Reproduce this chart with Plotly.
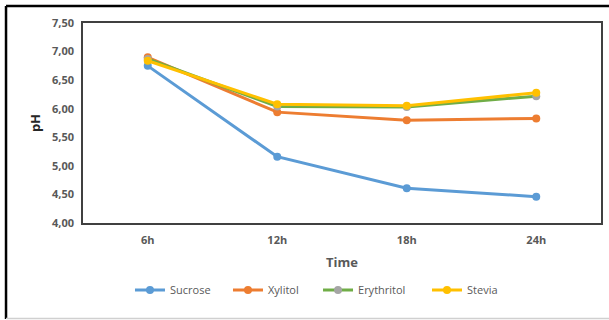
import plotly.graph_objects as go

times = ["6h", "12h", "18h", "24h"]
sucrose = [6.75, 5.16, 4.61, 4.46]
xylitol = [6.90, 5.94, 5.80, 5.83]
erythritol = [6.87, 6.04, 6.03, 6.22]
stevia = [6.84, 6.08, 6.05, 6.28]

series = [
    ("Sucrose", sucrose, "#5B9BD5", "#5B9BD5"),
    ("Xylitol", xylitol, "#ED7D31", "#ED7D31"),
    ("Erythritol", erythritol, "#70AD47", "#A5A5A5"),
    ("Stevia", stevia, "#FFC000", "#FFC000"),
]
legend_x = [0.0907, 0.2799, 0.4537, 0.6641]
legend_ids = ["legend", "legend2", "legend3", "legend4"]

fig = go.Figure()
for (name, vals, lc, mc), lid in zip(series, legend_ids):
    fig.add_trace(go.Scatter(
        x=times, y=vals, name=name, mode="lines+markers",
        line=dict(color=lc, width=3),
        marker=dict(color=mc, size=8, line=dict(width=0)),
        legend=lid,
    ))

gray = "#595959"
legend_common = dict(orientation="h", xanchor="left", y=-0.335, yanchor="middle",
                     font=dict(size=11, color=gray), itemwidth=30,
                     bgcolor="rgba(0,0,0,0)")
legends = {lid: dict(x=lx, **legend_common) for lid, lx in zip(legend_ids, legend_x)}

fig.update_layout(
    width=609, height=320,
    margin=dict(l=83, r=8, t=23, b=97, autoexpand=False),
    paper_bgcolor="white", plot_bgcolor="white",
    separators=",.",
    font=dict(family="Open Sans", color=gray, size=11),
    showlegend=True,
    **legends,
    xaxis=dict(type="category", range=[-0.5, 3.5], showgrid=False, zeroline=False,
               automargin=False, ticklabelstandoff=6,
               showline=True, mirror=True, linecolor="#404040", linewidth=1.5,
               ticks="", tickfont=dict(size=11, color=gray, weight="bold"),
               title=dict(text="Time", font=dict(size=13, color=gray, weight="bold"), standoff=12)),
    yaxis=dict(range=[4, 7.5], dtick=0.5, tickformat=".2f", showgrid=False, zeroline=False,
               automargin=False, ticklabelstandoff=5,
               showline=True, mirror=True, linecolor="#404040", linewidth=1.5,
               ticks="", tickfont=dict(size=11, color=gray, weight="bold"),
               title=dict(text="pH", font=dict(size=13, color="#262626", weight="bold"), standoff=8)),
    shapes=[
        dict(type="line", xref="paper", yref="paper", x0=-0.1486, x1=1.03, y0=1.085, y1=1.085,
             line=dict(color="black", width=2.5)),
        dict(type="line", xref="paper", yref="paper", x0=-0.1486, x1=-0.1486, y0=1.085, y1=-0.48,
             line=dict(color="black", width=2.5)),
        dict(type="line", xref="paper", yref="paper", x0=-0.1486, x1=1.03, y0=-0.4775, y1=-0.4775,
             line=dict(color="#D0D0D0", width=1.5)),
    ],
)

fig.write_html("out.html", config={"displayModeBar": False},
               post_script="document.body.style.margin='0';")
